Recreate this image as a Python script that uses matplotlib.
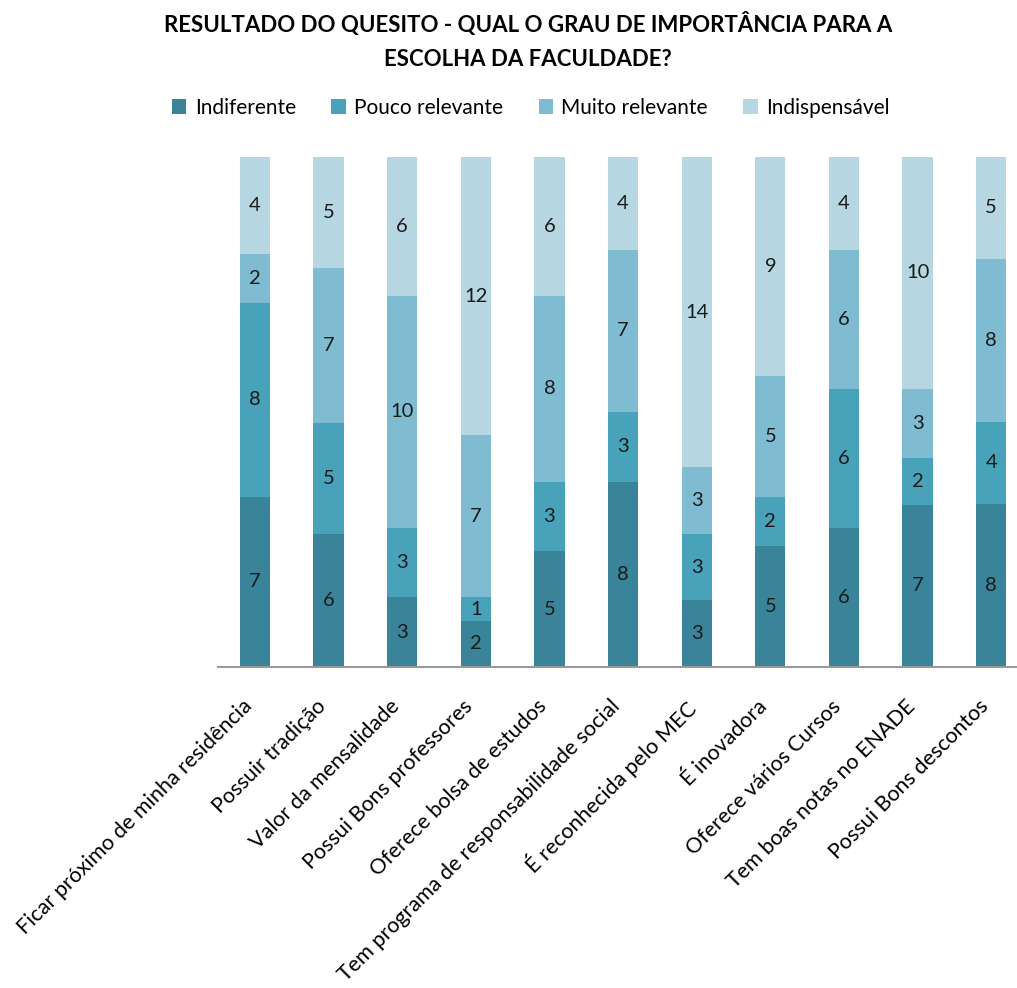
import matplotlib
matplotlib.use('Agg')
import matplotlib.pyplot as plt
import matplotlib.transforms as mtransforms
import numpy as np

plt.rcParams['font.family'] = ['Lato', 'DejaVu Sans']

# respostas por quesito
categories = ['Ficar próximo de minha residência', 'Possuir tradição', 'Valor da mensalidade',
              'Possui Bons professores', 'Oferece bolsa de estudos',
              'Tem programa de responsabilidade social', 'É reconhecida pelo MEC', 'É inovadora',
              'Oferece vários Cursos', 'Tem boas notas no ENADE', 'Possui Bons descontos']
series_names = ['Indiferente', 'Pouco relevante', 'Muito relevante', 'Indispensável']
indiferente = [7, 6, 3, 2, 5, 8, 3, 5, 6, 7, 8]
pouco_relevante = [8, 5, 3, 1, 3, 3, 3, 2, 6, 2, 4]
muito_relevante = [2, 7, 10, 7, 8, 7, 3, 5, 6, 3, 8]
indispensavel = [4, 5, 6, 12, 6, 4, 14, 9, 4, 10, 5]
colors = ['#3A8499', '#47A2BA', '#7FBBD1', '#B6D6E2']

data = np.array([indiferente, pouco_relevante, muito_relevante, indispensavel], dtype=float)
totals = data.sum(axis=0)
shares = data / totals

fig = plt.figure(figsize=(10.17, 9.88), dpi=100)
ax = fig.add_axes([0.2144, 0.3249, 0.7856, 0.5162])

x = np.arange(len(categories))
bottom = np.zeros(len(categories))
for i, name in enumerate(series_names):
    ax.bar(x, shares[i], 0.41, bottom=bottom, color=colors[i], label=name)
    for j in range(len(categories)):
        ax.text(x[j], bottom[j] + shares[i][j] / 2, '%d' % data[i][j],
                ha='center', va='center', fontsize=14.5, color='#1a1a1a')
    bottom += shares[i]

ax.set_xlim(-0.5, 10.35)
ax.set_ylim(0, 1)
ax.set_yticks([])
for side in ['top', 'right', 'left']:
    ax.spines[side].set_visible(False)
ax.spines['bottom'].set_color('#999999')
ax.spines['bottom'].set_linewidth(1.5)

ax.set_xticks(x)
ax.set_xticklabels(categories, rotation=45, ha='right', rotation_mode='anchor', fontsize=15.5)
ax.tick_params(axis='x', length=0, pad=21)
shift = mtransforms.ScaledTranslation(-13 / 100, 0, fig.dpi_scale_trans)
for lbl in ax.get_xticklabels():
    lbl.set_transform(lbl.get_transform() + shift)

fig.text(0.519, 0.988, 'RESULTADO DO QUESITO - QUAL O GRAU DE IMPORTÂNCIA PARA A\nESCOLHA DA FACULDADE?',
         ha='center', va='top', fontsize=16, fontweight='bold', linespacing=1.75)

fig.legend(loc='center', bbox_to_anchor=(0.522, 0.891), ncol=4, frameon=False,
           fontsize=15, handlelength=0.7, handleheight=0.7, handletextpad=0.4, columnspacing=1.7)

fig.savefig('out.png', dpi=100)
